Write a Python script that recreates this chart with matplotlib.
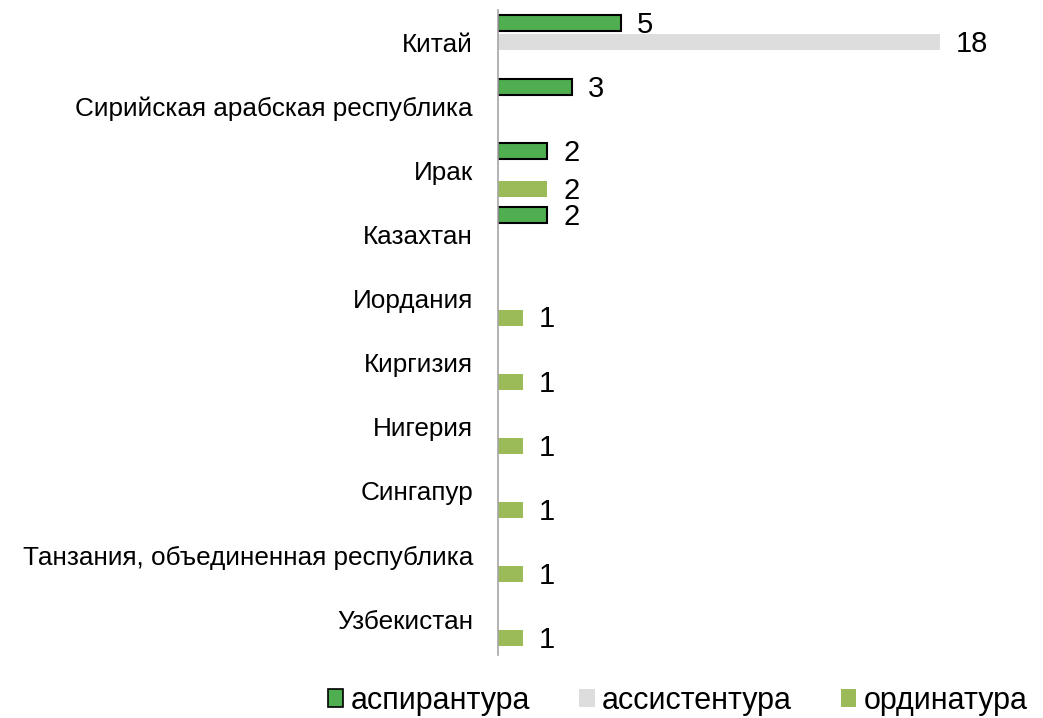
import numpy as np
import matplotlib
matplotlib.use("Agg")
import matplotlib.pyplot as plt
from matplotlib.patches import Patch

plt.rcParams['font.family'] = ['Liberation Sans', 'DejaVu Sans']

# Data
countries = ["Китай", "Сирийская арабская республика", "Ирак", "Казахтан",
             "Иордания", "Киргизия", "Нигерия", "Сингапур",
             "Танзания, объединенная республика", "Узбекистан"]
aspirantura = [5, 3, 2, 2, 0, 0, 0, 0, 0, 0]
assistentura = [18, 0, 0, 0, 0, 0, 0, 0, 0, 0]
ordinatura = [0, 0, 2, 0, 1, 1, 1, 1, 1, 1]
series_names = ["аспирантура", "ассистентура", "ординатура"]

colors = ["#4FAE4F", "#DDDDDD", "#9BBB59"]
edges = ["black", "none", "none"]

fig = plt.figure(figsize=(10.43, 7.18), dpi=100)
ax = fig.add_axes([498 / 1043, 1 - 655 / 718, (940 - 498) / 1043, (655 - 10) / 718])

y = np.arange(len(countries))
pitch = 0.297
height = 0.25
series = [aspirantura, assistentura, ordinatura]
for i, vals in enumerate(series):
    pos = y + (i - 1) * pitch
    for yy, v in zip(pos, vals):
        if v == 0:
            continue
        ax.barh(yy, v, height=height, color=colors[i], edgecolor=edges[i],
                linewidth=1.5 if edges[i] != "none" else 0)
        ax.text(v + 0.65, yy + 0.03, str(v), va="center", ha="left", fontsize=21,
                clip_on=False)

ax.set_xlim(0, 18)
ax.set_ylim(len(countries) - 1 + 0.56, -0.5)
ax.set_yticks(y)
ax.set_yticklabels(countries, fontsize=18.8)
ax.tick_params(axis="y", length=0, pad=18)
ax.set_xticks([])
for s in ["top", "right", "bottom"]:
    ax.spines[s].set_visible(False)
ax.spines["left"].set_color("#A6A6A6")
ax.spines["left"].set_linewidth(1.2)

handles = [Patch(facecolor=colors[i], edgecolor=edges[i],
                 linewidth=1.2 if edges[i] != "none" else 0)
           for i in range(3)]
fig.legend(handles, series_names, loc="center", bbox_to_anchor=(678 / 1043, 1 - 701 / 718),
           ncol=3, frameon=False, fontsize=22, handlelength=0.5, handleheight=0.5,
           handletextpad=0.25, columnspacing=1.6, borderaxespad=0)

fig.savefig("out.png", dpi=100)
